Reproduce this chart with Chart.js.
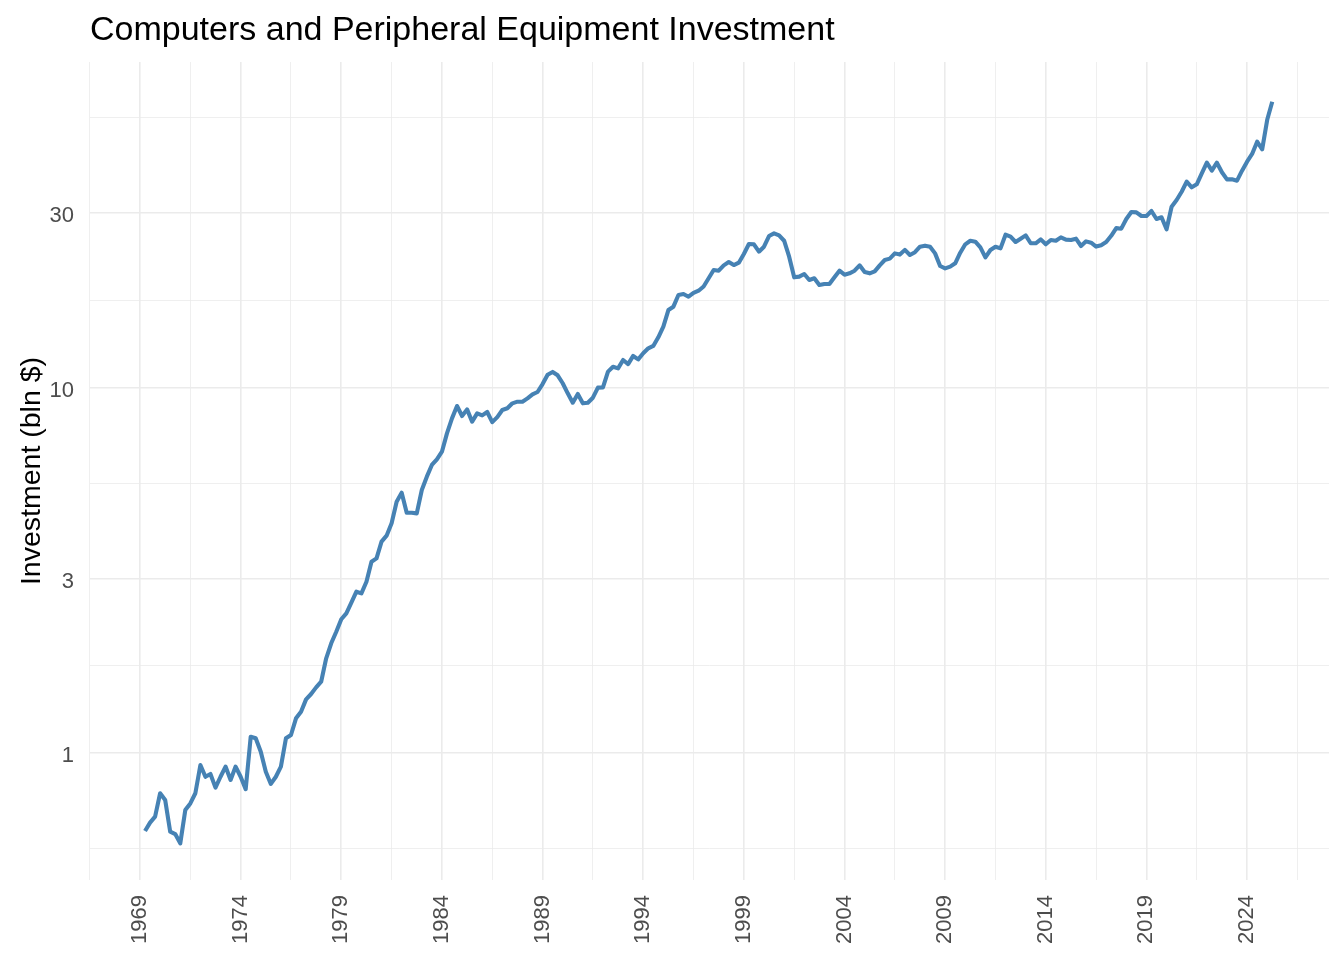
<!DOCTYPE html>
<html>
<head>
<meta charset="utf-8">
<script src="https://cdn.jsdelivr.net/npm/chart.js@4.4.1/dist/chart.umd.min.js"></script>
<style>
  html, body { margin: 0; padding: 0; background: #ffffff; }
  #wrap { width: 1344px; height: 960px; }
</style>
</head>
<body>
<div id="wrap"><canvas id="c" width="1344" height="960"></canvas></div>
<script>
// ---- Data (quarterly, starting 1969 Q2) ----
const firstYear = 1969;
const firstQuarter = 2;
const investment = [
  0.612, 0.645, 0.670,
  0.776, 0.744, 0.609, 0.600,
  0.566, 0.698, 0.728, 0.776,
  0.927, 0.861, 0.876, 0.804,
  0.861, 0.918, 0.844, 0.918,
  0.861, 0.796, 1.108, 1.097,
  1.008, 0.889, 0.823, 0.861,
  0.918, 1.097, 1.120, 1.244,
  1.297, 1.402, 1.450, 1.512,
  1.567, 1.816, 1.996, 2.147,
  2.322, 2.410, 2.578, 2.763,
  2.734, 2.942, 3.337, 3.408,
  3.786, 3.932, 4.250, 4.871,
  5.155, 4.544, 4.544, 4.525,
  5.243, 5.702, 6.138, 6.361,
  6.675, 7.491, 8.233, 8.900,
  8.356, 8.713, 8.063, 8.497,
  8.39, 8.57, 8.04, 8.30,
  8.678, 8.773, 9.051, 9.146,
  9.146, 9.340, 9.579, 9.721,
  10.22, 10.84, 11.03, 10.80,
  10.27, 9.640, 9.087, 9.598,
  9.051, 9.087, 9.378, 9.99,
  10.01, 11.05, 11.40, 11.28,
  11.89, 11.59, 12.20, 11.94,
  12.41, 12.80, 12.99, 13.72,
  14.67, 16.29, 16.64, 17.91,
  18.02, 17.72, 18.15, 18.40,
  18.9, 19.9, 20.96, 20.87,
  21.59, 22.05, 21.63, 21.95,
  23.19, 24.70, 24.65, 23.53,
  24.28, 25.97, 26.41, 26.08,
  25.21, 22.80, 20.02, 20.11,
  20.44, 19.69, 19.90, 19.07,
  19.19, 19.19, 20.02, 20.87,
  20.35, 20.53, 20.87, 21.59,
  20.70, 20.53, 20.79, 21.59,
  22.33, 22.52, 23.28, 23.1,
  23.8, 23.04, 23.45, 24.28,
  24.44, 24.28, 23.28, 21.50,
  21.18, 21.41, 21.87, 23.38,
  24.65, 25.21, 25.06, 24.18,
  22.71, 23.78, 24.28, 24.03,
  26.19, 25.86, 25.01, 25.54,
  26.08, 24.81, 24.81, 25.43,
  24.65, 25.33, 25.21, 25.75,
  25.38, 25.33, 25.54, 24.39,
  25.11, 24.90, 24.3, 24.5,
  25.0, 26.0, 27.3, 27.2,
  28.9, 30.2, 30.15, 29.46,
  29.46, 30.40, 28.91, 29.22,
  27.10, 31.24, 32.58, 34.33,
  36.57, 35.30, 35.97, 38.55,
  41.22, 39.20, 41.22, 38.80,
  37.11, 37.11, 36.81, 39.20,
  41.48, 43.54, 47.04, 44.84,
  54.0, 60.5
];

// ---- Axes ----
const xLabelYears = [1969, 1974, 1979, 1984, 1989, 1994, 1999, 2004, 2009, 2014, 2019, 2024];
const xMinorYears = [1966.5, 1971.5, 1976.5, 1981.5, 1986.5, 1991.5, 1996.5, 2001.5, 2006.5, 2011.5, 2016.5, 2021.5, 2026.5];
const xRange = [1966.516, 2028.07];
const yLabelValues = [1, 3, 10, 30];
const yMinorValues = [0.5477, 1.7321, 5.4772, 17.3205, 54.772];
const yRange = [0.4493, 77.73];

const titleText = 'Computers and Peripheral Equipment Investment';
const yTitleText = 'Investment (bln $)';

const points = investment.map((v, i) => ({ x: firstYear + (firstQuarter - 1 + i) / 4, y: v }));

const FONT = 'Liberation Sans, Arial, sans-serif';
const gridColor = '#EBEBEB';

new Chart(document.getElementById('c'), {
  type: 'line',
  data: {
    datasets: [{
      data: points,
      borderColor: '#4682B4',
      borderWidth: 4.1,
      pointRadius: 0,
      tension: 0,
      fill: false,
      borderJoinStyle: 'round',
      borderCapStyle: 'butt'
    }]
  },
  options: {
    responsive: false,
    animation: false,
    devicePixelRatio: 1,
    layout: { padding: { left: 0, right: 15, top: 0, bottom: 0 } },
    plugins: {
      legend: { display: false },
      tooltip: { enabled: false },
      title: {
        display: true,
        text: titleText,
        align: 'start',
        fullSize: false,
        color: '#000000',
        font: { family: FONT, size: 34, weight: 'normal', lineHeight: 1.2 },
        padding: { top: 10.6, bottom: 10.6 }
      }
    },
    scales: {
      x: {
        type: 'linear',
        min: xRange[0],
        max: xRange[1],
        afterBuildTicks: (scale) => {
          const vals = xLabelYears.concat(xMinorYears).sort((a, b) => a - b);
          scale.ticks = vals.map(v => ({ value: v }));
        },
        afterFit: (scale) => { scale.height = 80; },
        ticks: {
          autoSkip: false,
          minRotation: 90,
          maxRotation: 90,
          padding: 15,
          color: '#4D4D4D',
          font: { family: FONT, size: 22 },
          callback: (v) => xLabelYears.includes(v) ? String(v) : ''
        },
        grid: {
          color: gridColor,
          drawTicks: false,
          lineWidth: (ctx) => (ctx.tick && xLabelYears.includes(ctx.tick.value)) ? 1.6 : 0.8
        },
        border: { display: false }
      },
      y: {
        type: 'logarithmic',
        min: yRange[0],
        max: yRange[1],
        afterBuildTicks: (scale) => {
          const vals = yLabelValues.concat(yMinorValues).sort((a, b) => a - b);
          scale.ticks = vals.map(v => ({ value: v }));
        },
        afterFit: (scale) => { scale.width = 90; },
        ticks: {
          autoSkip: false,
          padding: 16,
          labelOffset: 3,
          color: '#4D4D4D',
          font: { family: FONT, size: 22 },
          callback: (v) => yLabelValues.includes(v) ? String(v) : ''
        },
        grid: {
          color: gridColor,
          drawTicks: false,
          lineWidth: (ctx) => (ctx.tick && yLabelValues.includes(ctx.tick.value)) ? 1.6 : 0.8
        },
        border: { display: false },
        title: {
          display: true,
          text: yTitleText,
          color: '#000000',
          font: { family: FONT, size: 28.5, lineHeight: 1.2 },
          padding: { top: 14.7, bottom: 0 }
        }
      }
    }
  }
});
</script>
</body>
</html>
